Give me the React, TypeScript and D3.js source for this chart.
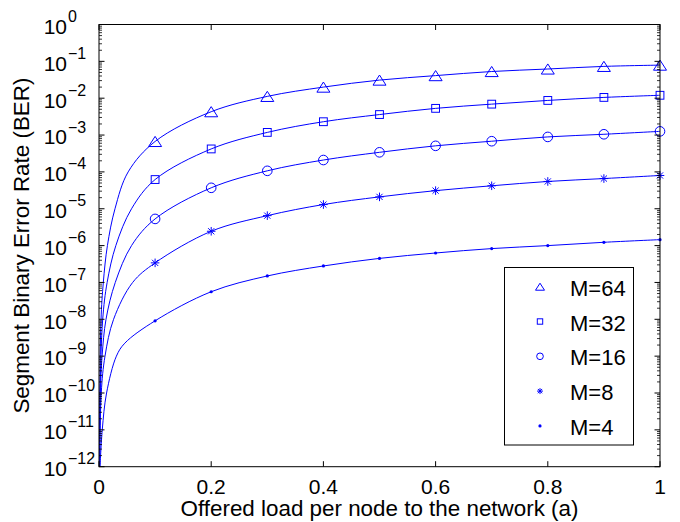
import * as d3 from "d3";

// load values where markers are drawn
const loads = [0.1, 0.2, 0.3, 0.4, 0.5, 0.6, 0.7, 0.8, 0.9, 1.0];

// BER at each load
const berM64 = [6.7e-4, 4.3e-3, 1.12e-2, 2.0e-2, 3.1e-2, 4.1e-2, 5.3e-2, 6.2e-2, 7.3e-2, 7.9e-2];
const berM32 = [6.2e-5, 4.2e-4, 1.18e-3, 2.3e-3, 3.6e-3, 5.3e-3, 6.9e-3, 8.7e-3, 1.05e-2, 1.2e-2];
const berM16 = [5.3e-6, 3.7e-5, 1.07e-4, 2.1e-4, 3.4e-4, 5.1e-4, 6.8e-4, 8.9e-4, 1.05e-3, 1.26e-3];
const berM8 = [3.4e-7, 2.45e-6, 6.5e-6, 1.3e-5, 2.1e-5, 3.1e-5, 4.2e-5, 5.5e-5, 6.6e-5, 8.0e-5];
const berM4 = [9.1e-9, 5.6e-8, 1.5e-7, 2.8e-7, 4.5e-7, 6.3e-7, 8.3e-7, 1.0e-6, 1.23e-6, 1.45e-6];

// steep part of each curve near a = 0 (load, BER)
const headM64: [number, number][] = [[0.0006, 1e-12], [0.0015, 1e-10], [0.0036, 1e-8], [0.0077, 1e-7], [0.015, 1e-6], [0.0285, 1e-5], [0.052, 1e-4]];
const headM32: [number, number][] = [[0.0008, 1e-12], [0.002, 1e-10], [0.0066, 1e-8], [0.0145, 1e-7], [0.03, 1e-6], [0.058, 1e-5]];
const headM16: [number, number][] = [[0.001, 1e-12], [0.0025, 1e-10], [0.0055, 1e-9], [0.0125, 1e-8], [0.029, 1e-7], [0.058, 1e-6]];
const headM8: [number, number][] = [[0.0015, 1e-12], [0.004, 1e-10], [0.0107, 1e-9], [0.026, 1e-8], [0.06, 1e-7]];
const headM4: [number, number][] = [[0.0018, 1e-12], [0.0058, 1e-11], [0.0135, 1e-10], [0.031, 1e-9], [0.046, 2.25e-9]];

const seriesNames = ["M=64", "M=32", "M=16", "M=8", "M=4"];
const markerTypes = ["triangle", "square", "circle", "star", "dot"];

const xTicks = [0, 0.2, 0.4, 0.6, 0.8, 1];
const xTickLabels = ["0", "0.2", "0.4", "0.6", "0.8", "1"];
const yExponents = d3.range(-12, 1);

const width = 680;
const height = 522;
const left = 99, right = 660, top = 24.5, bottom = 466.7;
const blue = "#0000ff";
const font = "'Liberation Sans', Arial, Helvetica, sans-serif";

function Marker({ type, cx, cy, s }: { type: string; cx: number; cy: number; s: number }) {
  if (type === "triangle") {
    const h = s * 0.78;
    return <path d={`M${cx},${cy - h / 2}L${cx + s / 2},${cy + h / 2}L${cx - s / 2},${cy + h / 2}Z`} fill="none" stroke={blue} strokeWidth={1} />;
  }
  if (type === "square") {
    const a = s * 0.6;
    return <rect x={cx - a / 2} y={cy - a / 2} width={a} height={a} fill="none" stroke={blue} strokeWidth={1} />;
  }
  if (type === "circle") {
    return <circle cx={cx} cy={cy} r={s * 0.37} fill="none" stroke={blue} strokeWidth={1} />;
  }
  if (type === "star") {
    const r = s * 0.33;
    const d = r * 0.72;
    return (
      <path
        d={`M${cx - r},${cy}H${cx + r}M${cx},${cy - r}V${cy + r}M${cx - d},${cy - d}L${cx + d},${cy + d}M${cx - d},${cy + d}L${cx + d},${cy - d}`}
        stroke={blue}
        strokeWidth={1}
      />
    );
  }
  return <circle cx={cx} cy={cy} r={1.6} fill={blue} />;
}

export default function App() {
  const x = d3.scaleLinear([0, 1], [left, right]);
  const y = d3.scaleLog([1e-12, 1], [bottom, top]);

  const markerSets = [berM64, berM32, berM16, berM8, berM4];
  const heads = [headM64, headM32, headM16, headM8, headM4];

  const line = d3
    .line<[number, number]>()
    .x((d) => x(d[0]))
    .y((d) => y(d[1]))
    .curve(d3.curveCatmullRom.alpha(0.5));

  const minorTicks: number[] = [];
  yExponents.slice(0, -1).forEach((e) => {
    for (let k = 2; k <= 9; k++) minorTicks.push(k * Math.pow(10, e));
  });

  const legendX = 504.5, legendY = 267.5, legendW = 129, legendH = 177.5;

  return (
    <svg width={width} height={height} style={{ position: "absolute", left: 0, top: 0, background: "#fff" }} fontFamily={font}>
      <defs>
        <clipPath id="plot">
          <rect x={left} y={top} width={right - left} height={bottom - top} />
        </clipPath>
      </defs>
      <rect width={width} height={height} fill="#fff" />

      {/* curves */}
      <g clipPath="url(#plot)">
        {markerSets.map((vals, i) => {
          const pts: [number, number][] = [...heads[i], ...loads.map((a, j) => [a, vals[j]] as [number, number])];
          return <path key={i} d={line(pts) ?? ""} fill="none" stroke={blue} strokeWidth={1} />;
        })}
      </g>

      {/* markers */}
      {markerSets.map((vals, i) =>
        loads.map((a, j) => <Marker key={`${i}-${j}`} type={markerTypes[i]} cx={x(a)} cy={y(vals[j])} s={13} />)
      )}

      {/* axes box */}
      <rect x={left} y={top} width={right - left} height={bottom - top} fill="none" stroke="#000" strokeWidth={1} />

      {/* x ticks */}
      {xTicks.map((t, i) => (
        <g key={t}>
          <line x1={x(t)} x2={x(t)} y1={bottom} y2={bottom - 5.5} stroke="#000" />
          <line x1={x(t)} x2={x(t)} y1={top} y2={top + 5.5} stroke="#000" />
          <text x={x(t)} y={493.5} textAnchor="middle" fontSize={21}>
            {xTickLabels[i]}
          </text>
        </g>
      ))}

      {/* y ticks */}
      {minorTicks.map((t) => (
        <g key={t}>
          <line x1={left} x2={left + 3} y1={y(t)} y2={y(t)} stroke="#000" strokeWidth={0.8} />
          <line x1={right} x2={right - 3} y1={y(t)} y2={y(t)} stroke="#000" strokeWidth={0.8} />
        </g>
      ))}
      {yExponents.map((e) => {
        const yy = y(Math.pow(10, e));
        return (
          <g key={e}>
            <line x1={left} x2={left + 5.5} y1={yy} y2={yy} stroke="#000" />
            <line x1={right} x2={right - 5.5} y1={yy} y2={yy} stroke="#000" />
            <text x={67} y={yy + 9.3} textAnchor="end" fontSize={21}>
              10
            </text>
            <text x={68} y={yy - 2.5} fontSize={16}>
              {e < 0 ? `\u2212${-e}` : `${e}`}
            </text>
          </g>
        );
      })}

      {/* axis labels */}
      <text x={(left + right) / 2} y={516} textAnchor="middle" fontSize={22.4}>
        Offered load per node to the network (a)
      </text>
      <text transform={`translate(29,${(top + bottom) / 2}) rotate(-90)`} textAnchor="middle" fontSize={22.4}>
        Segment Binary Error Rate (BER)
      </text>

      {/* legend */}
      <rect x={legendX} y={legendY} width={legendW} height={legendH} fill="#fff" stroke="#000" strokeWidth={1} />
      {seriesNames.map((name, i) => {
        const cy = legendY + 19.2 + i * 34.8;
        return (
          <g key={name}>
            <Marker type={markerTypes[i]} cx={540} cy={cy} s={9} />
            <text x={570} y={cy + 9} fontSize={22}>
              {name}
            </text>
          </g>
        );
      })}
    </svg>
  );
}
